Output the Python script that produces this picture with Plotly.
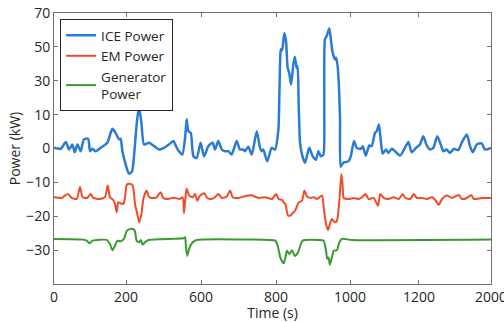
import plotly.graph_objects as go

# ---- data (time axis drawn on a 0-2000 internal scale, power on internal scale) ----
ice_t = [0, 31, 54, 69, 84, 95, 107, 122, 137, 156, 165, 175, 191, 214, 244, 267, 282, 298, 305, 313,
         328, 343, 357, 366, 379, 389, 400, 412, 435, 458, 481, 503, 526, 546, 562, 572, 587, 600, 607, 615,
         626, 638, 653, 671, 687, 706, 726, 737, 752, 768, 783, 798, 813, 836, 851, 866, 874, 889, 905, 928,
         943, 951, 958, 976, 996, 1011, 1027, 1031, 1036, 1039, 1044, 1054, 1062, 1069, 1077, 1085, 1095, 1102, 1111, 1115,
         1120, 1126, 1135, 1149, 1168, 1184, 1199, 1210, 1221, 1233, 1237, 1240, 1248, 1260, 1266, 1274, 1286, 1291, 1298, 1304,
         1309, 1312, 1324, 1347, 1358, 1373, 1385, 1404, 1413, 1427, 1443, 1454, 1469, 1477, 1487, 1495, 1504, 1520, 1530, 1546,
         1561, 1584, 1602, 1622, 1637, 1657, 1675, 1690, 1706, 1721, 1736, 1754, 1770, 1782, 1797, 1812, 1831, 1850, 1866, 1889,
         1904, 1916, 1935, 1957, 1973, 2000]
ice_p = [0.2, -0.1, 1.9, -0.3, 1.2, -1.1, 1.2, -0.8, 2.7, 2.9, -0.8, -0.1, -0.8, 0.2, 1.7, 5.8, 4.6, 2.7, 2.9, -0.8,
         -4.7, -7.4, -6.8, -2.3, 7.6, 12.3, 7.6, 1.2, 1.7, 0.7, -0.3, 0.2, 1.2, 2.2, 0.2, -0.8, -1.8, 3.2, 8.6, 5.1,
         4.6, -2.3, -2.8, 1.7, -2.3, 0.7, 1.7, -0.3, 2.2, -0.3, -0.8, -0.8, -1.8, 2.2, -0.3, -0.3, -0.8, 0.5, -1.8, 5.1,
         0.2, -0.8, -0.3, -3.8, 0.2, -0.3, 5.6, 14.5, 27.8, 29.3, 29.0, 34.0, 31.7, 24.0, 22.2, 18.9, 24.6, 27.1, 23.7, 24.3,
         12.7, 1.7, -1.8, -4.2, 0.2, -2.3, -3.3, -0.8, -2.3, -1.8, 11.5, 32.2, 33.2, 35.4, 32.8, 28.7, 26.3, 26.8, 24.3, 18.4,
         8.6, -5.4, -4.2, -3.8, -2.3, 2.2, 0.2, -0.1, 0.7, -2.1, 0.9, 0.7, 4.6, 5.1, 7.1, 2.7, -1.5, -0.3, -1.3, -0.1,
         -0.8, -2.1, -0.3, 1.9, -1.1, 0.2, 1.2, 3.6, 0.9, -0.3, 0.2, 3.6, 1.2, -0.8, -0.3, -1.3, -0.1, -0.5, 1.7, 4.1,
         0.7, -1.1, 1.2, 1.5, -0.3, 0.2]

em_t = [0, 35, 50, 65, 81, 104, 119, 131, 152, 168, 180, 211, 233, 246, 256, 271, 279, 287, 294, 305,
        317, 325, 333, 348, 360, 371, 381, 390, 400, 409, 424, 436, 454, 470, 488, 500, 523, 539, 554, 577,
        589, 595, 601, 607, 619, 635, 645, 656, 668, 687, 702, 722, 737, 752, 768, 790, 806, 818, 844, 866,
        889, 902, 937, 967, 998, 1016, 1028, 1044, 1051, 1059, 1071, 1081, 1092, 1104, 1120, 1135, 1146, 1158, 1173, 1189,
        1204, 1227, 1234, 1245, 1254, 1265, 1272, 1285, 1295, 1306, 1315, 1321, 1326, 1349, 1372, 1395, 1410, 1425, 1440, 1463,
        1483, 1493, 1509, 1532, 1555, 1578, 1596, 1608, 1631, 1646, 1661, 1684, 1707, 1730, 1745, 1761, 1776, 1799, 1822, 1852,
        1867, 1890, 1910, 1921, 1959, 2000]
em_p = [-14.4, -14.6, -13.9, -13.4, -14.6, -14.9, -11.4, -14.4, -14.6, -13.4, -14.6, -14.9, -14.4, -10.9, -14.4, -15.2, -16.4, -18.8, -15.9, -16.2,
        -16.4, -14.6, -10.7, -10.4, -10.9, -16.4, -19.3, -21.8, -19.3, -14.9, -12.4, -14.4, -14.6, -14.4, -12.9, -14.6, -14.9, -14.6, -14.6, -14.9,
        -14.4, -19.1, -14.9, -11.9, -13.9, -14.4, -13.4, -15.4, -13.9, -13.2, -14.6, -14.9, -14.4, -13.4, -14.6, -14.2, -12.4, -14.4, -14.6, -14.2,
        -13.9, -13.8, -14.6, -14.4, -14.9, -13.4, -14.9, -15.2, -15.9, -16.4, -19.8, -19.8, -19.1, -18.3, -15.9, -15.4, -12.4, -14.2, -14.6, -14.4,
        -14.9, -13.9, -17.4, -22.3, -24.1, -21.8, -20.8, -21.8, -21.3, -15.4, -7.5, -10.9, -14.6, -14.9, -14.6, -14.9, -14.4, -13.4, -14.9, -14.6,
        -16.9, -13.4, -14.6, -14.9, -14.4, -14.9, -13.4, -14.6, -14.9, -13.4, -14.6, -14.6, -14.9, -14.4, -15.2, -16.6, -14.9, -13.9, -14.6, -13.7,
        -14.9, -14.6, -13.7, -14.9, -14.6, -14.6]

gen_t = [0, 134, 150, 162, 177, 241, 256, 267, 279, 290, 305, 320, 333, 348, 363, 371, 378, 390, 397, 406,
         416, 432, 592, 600, 604, 610, 619, 635, 653, 906, 983, 1013, 1025, 1036, 1051, 1059, 1066, 1077, 1089, 1102,
         1117, 1127, 1138, 1211, 1234, 1245, 1251, 1257, 1262, 1272, 1280, 1295, 1306, 1318, 1364, 2000]
gen_p = [-26.7, -26.9, -27.2, -28.0, -27.2, -27.0, -28.2, -30.0, -28.7, -27.2, -27.4, -26.7, -24.3, -23.8, -23.8, -24.5, -27.2, -27.7, -27.0, -28.4,
         -27.7, -27.0, -26.5, -26.2, -29.2, -31.7, -29.4, -27.7, -27.0, -26.9, -27.0, -27.2, -29.0, -32.2, -33.9, -32.2, -30.2, -31.2, -30.0, -31.7,
         -30.7, -28.7, -27.2, -27.0, -27.2, -30.2, -32.6, -32.2, -34.3, -32.2, -30.2, -30.0, -27.7, -26.7, -27.0, -26.9]

x_tickvals = [0, 330, 673, 1016, 1355, 1670, 2000]
x_ticktext = ["0", "200", "600", "800", "1000", "1200", "2000"]
y_tickvals = [-40, -30, -20, -10, 0, 10, 20, 30, 40]
y_ticktext = ["", "\u221230", "\u221220", "\u221210", "0", "10", "30", "50", "70"]

FONT = "Open Sans"
TXT = "#262626"

fig = go.Figure()
fig.add_trace(go.Scatter(x=ice_t, y=ice_p, mode="lines", name="ICE Power",
                         line=dict(color="#2a7bd5", width=2.5, shape="spline", smoothing=0.6)))
fig.add_trace(go.Scatter(x=em_t, y=em_p, mode="lines", name="EM Power",
                         line=dict(color="#f04a28", width=2, shape="spline", smoothing=0.6)))
fig.add_trace(go.Scatter(x=gen_t, y=gen_p, mode="lines", name="Generator<br>Power",
                         line=dict(color="#3a9a30", width=2, shape="spline", smoothing=0.6)))

axis_common = dict(showgrid=False, zeroline=False, showline=True, linecolor="#707070", linewidth=1,
                   mirror="ticks", ticks="inside", ticklen=4, tickcolor="#707070", automargin=False,
                   ticklabeloverflow="allow",
                   tickfont=dict(family=FONT, size=14, color=TXT))

fig.update_layout(
    width=504, height=322,
    margin=dict(l=54, r=13, t=13, b=38),
    paper_bgcolor="white", plot_bgcolor="white",
    font=dict(family=FONT, size=14, color=TXT),
    showlegend=True,
    legend=dict(x=0.014, y=0.978, xanchor="left", yanchor="top",
                bordercolor="#262626", borderwidth=1, bgcolor="white",
                font=dict(family=FONT, size=13.5, color=TXT), itemwidth=30),
    xaxis=dict(range=[0, 2000], tickvals=x_tickvals, ticktext=x_ticktext,
               title=dict(text="Time (s)", standoff=3, font=dict(family=FONT, size=14, color=TXT)),
               **axis_common),
    yaxis=dict(range=[-40, 40], tickvals=y_tickvals, ticktext=y_ticktext,
               title=dict(text="Power (kW)", standoff=2, font=dict(family=FONT, size=14, color=TXT)),
               **axis_common),
)

fig.write_html("out.html", config={"displayModeBar": False},
               post_script="document.body.style.margin='0';document.body.style.overflow='hidden';")
